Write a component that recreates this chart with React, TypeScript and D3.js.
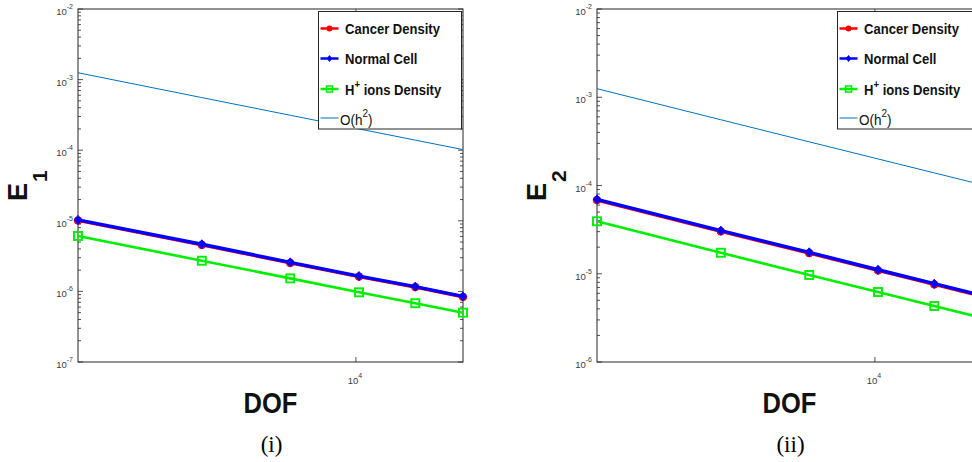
import React from 'react';
import * as d3 from 'd3';

// ---------- data ----------
const DOF = [1681, 3721, 6561, 10201, 14641, 19881];

const cancerE1 = [1.01e-5, 4.56e-6, 2.53e-6, 1.62e-6, 1.15e-6, 8.35e-7];
const normalE1 = [1.03e-5, 4.65e-6, 2.58e-6, 1.65e-6, 1.17e-6, 8.5e-7];
const hionsE1 = [6.1e-6, 2.72e-6, 1.53e-6, 9.7e-7, 6.8e-7, 5.0e-7];
const orderE1 = [1.25e-3, 5.56e-4, 3.125e-4, 2.0e-4, 1.389e-4, 1.02e-4];

const cancerE2 = [6.83e-5, 3.02e-5, 1.715e-5, 1.088e-5, 7.56e-6, 5.56e-6];
const normalE2 = [6.97e-5, 3.08e-5, 1.75e-5, 1.11e-5, 7.71e-6, 5.67e-6];
const hionsE2 = [3.93e-5, 1.73e-5, 9.68e-6, 6.21e-6, 4.31e-6, 3.17e-6];
const orderE2 = [1.25e-3, 5.56e-4, 3.125e-4, 2.0e-4, 1.389e-4, 1.02e-4];

const yExpE1 = [-7, -6, -5, -4, -3, -2];
const yExpE2 = [-6, -5, -4, -3, -2];
const xTickExp = [4];

const legendNames = ['Cancer Density', 'Normal Cell', 'ions Density', 'O(h'];
const panelCaptions = ['(i)', '(ii)'];
const ySubscripts = ['1', '2'];
const xLabel = 'DOF';

// ---------- styles ----------
const AX = '#262626';
const RED = '#ff0000';
const BLUE = '#0000ff';
const GREEN = '#00ee00';
const ORDER = '#0072bd';
const SANS = '"Liberation Sans", Arial, Helvetica, sans-serif';
const SERIF = '"Liberation Serif", "Times New Roman", serif';

const diamond = (cx: number, cy: number, s = 4.5) =>
  `M${cx},${cy - s}L${cx + s * 0.8},${cy}L${cx},${cy + s}L${cx - s * 0.8},${cy}Z`;

type PanelProps = {
  ox: number;
  yExps: number[];
  cancer: number[];
  normal: number[];
  hions: number[];
  order: number[];
  sub: string;
  caption: string;
};

function Panel({ ox, yExps, cancer, normal, hions, order, sub, caption }: PanelProps) {
  const left = 78 + ox;
  const right = 463 + ox;
  const top = 9;
  const bottom = 362;
  const x = d3.scaleLog().domain([DOF[0], DOF[DOF.length - 1]]).range([left, right]);
  const y = d3
    .scaleLog()
    .domain([Math.pow(10, yExps[0]), Math.pow(10, yExps[yExps.length - 1])])
    .range([bottom, top]);
  const line = (vals: number[]) =>
    d3
      .line<number>()
      .x((_, i) => x(DOF[i]))
      .y((v) => y(v))(vals) || '';

  const minor: number[] = [];
  for (let e = yExps[0]; e < yExps[yExps.length - 1]; e++) {
    for (let k = 2; k <= 9; k++) minor.push(k * Math.pow(10, e));
  }

  const lx = left + 240.5;
  const rows = [28.5, 58.5, 89, 118];
  const cx = (left + right) / 2;

  return (
    <g>
      <rect x={left} y={top} width={right - left} height={bottom - top} fill="#fff" stroke="none" />
      {minor.map((m, i) => (
        <g key={'m' + i} stroke={AX} strokeWidth={0.8}>
          <line x1={left} x2={left + 3} y1={y(m)} y2={y(m)} />
          <line x1={right} x2={right - 3} y1={y(m)} y2={y(m)} />
        </g>
      ))}
      {yExps.map((e) => {
        const yy = y(Math.pow(10, e));
        return (
          <g key={'y' + e}>
            <line x1={left} x2={left + 5} y1={yy} y2={yy} stroke={AX} strokeWidth={0.8} />
            <line x1={right} x2={right - 5} y1={yy} y2={yy} stroke={AX} strokeWidth={0.8} />
            <text x={left - 5} y={yy + 6} textAnchor="end" fontFamily={SANS} fontSize={9.5} fill="#3a3a3a">
              <tspan>10</tspan>
              <tspan fontSize={7} dy={-6}>{String(e)}</tspan>
            </text>
          </g>
        );
      })}
      {xTickExp.map((e) => {
        const xx = x(Math.pow(10, e));
        return (
          <g key={'x' + e}>
            <line x1={xx} x2={xx} y1={bottom} y2={bottom - 5} stroke={AX} strokeWidth={0.8} />
            <line x1={xx} x2={xx} y1={top} y2={top + 5} stroke={AX} strokeWidth={0.8} />
            <text x={xx - 1} y={bottom + 22} textAnchor="middle" fontFamily={SANS} fontSize={9.5} fill="#3a3a3a">
              <tspan>10</tspan>
              <tspan fontSize={7} dy={-6}>{String(e)}</tspan>
            </text>
          </g>
        );
      })}
      <rect x={left} y={top} width={right - left} height={bottom - top} fill="none" stroke={AX} strokeWidth={1} />

      <path d={line(order)} fill="none" stroke={ORDER} strokeWidth={1} />
      <path d={line(cancer)} fill="none" stroke={RED} strokeWidth={3.2} />
      {cancer.map((v, i) => (
        <circle key={'c' + i} cx={x(DOF[i])} cy={y(v)} r={3.8} fill={RED} stroke={RED} />
      ))}
      <path d={line(normal)} fill="none" stroke={BLUE} strokeWidth={3.4} />
      {normal.map((v, i) => (
        <path key={'n' + i} d={diamond(x(DOF[i]), y(v))} fill={BLUE} stroke={BLUE} strokeWidth={1} />
      ))}
      <path d={line(hions)} fill="none" stroke={GREEN} strokeWidth={2.6} />
      {hions.map((v, i) => (
        <rect key={'h' + i} x={x(DOF[i]) - 4} y={y(v) - 4} width={8} height={8} fill="none" stroke={GREEN} strokeWidth={1.9} />
      ))}

      <rect x={lx} y={11.5} width={143} height={117.5} fill="#fff" stroke={AX} strokeWidth={1} />
      <line x1={lx + 2} x2={lx + 20} y1={rows[0]} y2={rows[0]} stroke={RED} strokeWidth={2.5} />
      <circle cx={lx + 11} cy={rows[0]} r={3} fill={RED} />
      <line x1={lx + 2} x2={lx + 20} y1={rows[1]} y2={rows[1]} stroke={BLUE} strokeWidth={2.5} />
      <path d={diamond(lx + 11, rows[1], 3.6)} fill={BLUE} />
      <line x1={lx + 2} x2={lx + 20} y1={rows[2]} y2={rows[2]} stroke={GREEN} strokeWidth={2.5} />
      <rect x={lx + 8} y={rows[2] - 3} width={6} height={6} fill="none" stroke={GREEN} strokeWidth={1.5} />
      <line x1={lx + 2} x2={lx + 20} y1={rows[3]} y2={rows[3]} stroke={ORDER} strokeWidth={1} />

      <g fontFamily={SANS} fontWeight="bold" fontSize={15} fill="#111">
        <text transform={`translate(${lx + 26.5},${rows[0] + 5.5}) scale(0.87,1)`}>{legendNames[0]}</text>
        <text transform={`translate(${lx + 26.5},${rows[1] + 5.5}) scale(0.87,1)`}>{legendNames[1]}</text>
        <text transform={`translate(${lx + 26.5},${rows[2] + 5.5}) scale(0.87,1)`}>
          <tspan>H</tspan>
          <tspan fontSize={11} dy={-7}>+</tspan>
          <tspan dy={7}>{' ' + legendNames[2]}</tspan>
        </text>
      </g>
      <text transform={`translate(${lx + 21.5},${rows[3] + 6.5}) scale(0.9,1)`} fontFamily={SANS} fontSize={15} fill="#111">
        <tspan>{legendNames[3]}</tspan>
        <tspan fontSize={11} dy={-8}>2</tspan>
        <tspan dy={8}>)</tspan>
      </text>

      <text transform={`translate(${ox + 27},${201}) rotate(-90)`} fontFamily={SANS} fontWeight="bold" fontSize={27} fill="#111">
        <tspan>E</tspan>
        <tspan fontSize={21} dx={1} dy={20}>{sub}</tspan>
      </text>

      <text transform={`translate(${cx},${413}) scale(0.88,1)`} textAnchor="middle" fontFamily={SANS} fontWeight="bold" fontSize={29} fill="#111">
        {xLabel}
      </text>

      <text x={cx + 1} y={452} textAnchor="middle" fontFamily={SERIF} fontSize={23} fill="#000">
        {caption}
      </text>
    </g>
  );
}

export default function App() {
  return (
    <div style={{ position: 'absolute', left: 0, top: 0 }}>
      <svg width={972} height={462} style={{ display: 'block', background: '#fff' }}>
        <Panel ox={0} yExps={yExpE1} cancer={cancerE1} normal={normalE1} hions={hionsE1} order={orderE1} sub={ySubscripts[0]} caption={panelCaptions[0]} />
        <Panel ox={519} yExps={yExpE2} cancer={cancerE2} normal={normalE2} hions={hionsE2} order={orderE2} sub={ySubscripts[1]} caption={panelCaptions[1]} />
      </svg>
    </div>
  );
}
